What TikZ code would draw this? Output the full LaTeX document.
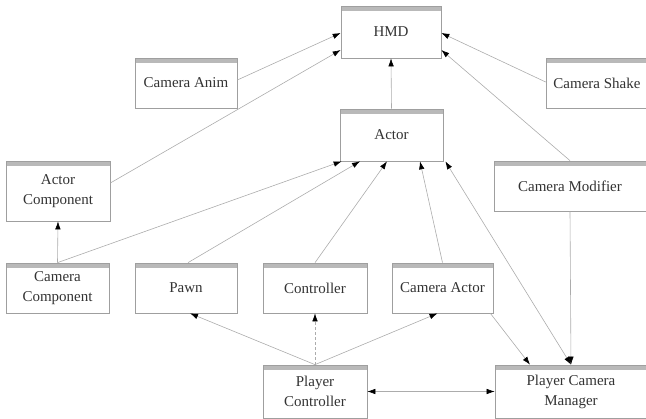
\documentclass[tikz,border=0pt]{standalone}
\usepackage{fontspec}
\setmainfont{Liberation Serif}
\usetikzlibrary{arrows.meta,calc}

\tikzset{
  x=1pt, y=-1pt,
  cls/.style={
    draw=gray!75, line width=0.7pt, fill=white,
    minimum width=#1, inner sep=1pt, align=center,
    text=black!80,
    font=\fontsize{15}{20}\selectfont,
    path picture={\fill[gray!55]
      (path picture bounding box.north west)
      rectangle ([yshift=-5pt]path picture bounding box.north east);}
  },
  cls/.default=102pt,
  edge/.style={draw=gray!65, line width=0.6pt,
    -{Latex[length=8pt,width=5.5pt,black]}},
  biedge/.style={draw=gray!65, line width=0.6pt,
    {Latex[length=8pt,width=5.5pt,black]}-{Latex[length=8pt,width=5.5pt,black]}}
}

\begin{document}
\begin{tikzpicture}
\useasboundingbox (0,0) rectangle (646,419);

% class boxes
\node[cls=100pt, minimum height=52pt] (hmd)       at (391,32)    {HMD};
\node[cls=102pt, minimum height=50pt] (anim)      at (186,83)    {Camera Anim};
\node[cls=102pt, minimum height=50pt] (shake)     at (597,83)    {Camera Shake};
\node[cls=103pt, minimum height=52pt] (actor)     at (391.5,135) {Actor};
\node[cls=104pt, minimum height=60pt] (actorcomp) at (58,191)    {Actor\\Component};
\node[cls=152pt, minimum height=50pt] (modifier)  at (570,186)   {Camera Modifier};
\node[cls=103pt, minimum height=50pt] (camcomp)   at (57.5,288)  {Camera\\Component};
\node[cls=102pt, minimum height=50pt] (pawn)      at (186,288)   {Pawn};
\node[cls=104pt, minimum height=50pt] (ctrl)      at (315,288)   {Controller};
\node[cls=101pt, minimum height=50pt] (camactor)  at (442.5,288) {Camera Actor};
\node[cls=104pt, minimum height=53pt] (pc)        at (315,391.5) {Player\\Controller};
\node[cls=152pt, minimum height=53pt] (pcm)       at (571,391.5) {Player Camera\\Manager};

% inheritance / association links
\draw[edge] ([yshift=3pt]anim.east)       -- ([yshift=-1pt]hmd.west);
\draw[edge] ([yshift=8pt]actorcomp.east)  -- ([yshift=-18pt]hmd.west);
\draw[edge] ([yshift=1pt]shake.west)      -- ([yshift=-1pt]hmd.east);
\draw[edge] (modifier.north)              -- ([yshift=-18pt]hmd.east);
\draw[edge] (actor.north)                 -- (hmd.south);

\draw[edge] (camcomp.north)               -- (actorcomp.south);
\draw[edge] (camcomp.north)               -- ([xshift=2pt]actor.south west);
\draw[edge] ([xshift=2pt]pawn.north)      -- ([xshift=-31.5pt]actor.south);
\draw[edge] (ctrl.north)                  -- ([xshift=-4.5pt]actor.south);
\draw[edge] (camactor.north)              -- ([xshift=28.5pt]actor.south);
\draw[biedge] (pcm.north)                 -- ([xshift=2pt]actor.south east);

\draw[edge] ([xshift=-3pt]camactor.south east) -- ([xshift=-41pt]pcm.north);
\draw[edge] (modifier.south)              -- (pcm.north);

\draw[edge] (pc.north)                    -- ([xshift=4pt]pawn.south);
\draw[edge, densely dashed] (pc.north)    -- (ctrl.south);
\draw[edge] (pc.north)                    -- ([xshift=-5pt]camactor.south);
\draw[biedge] (pc.east)                   -- (pcm.west);
\end{tikzpicture}
\end{document}
